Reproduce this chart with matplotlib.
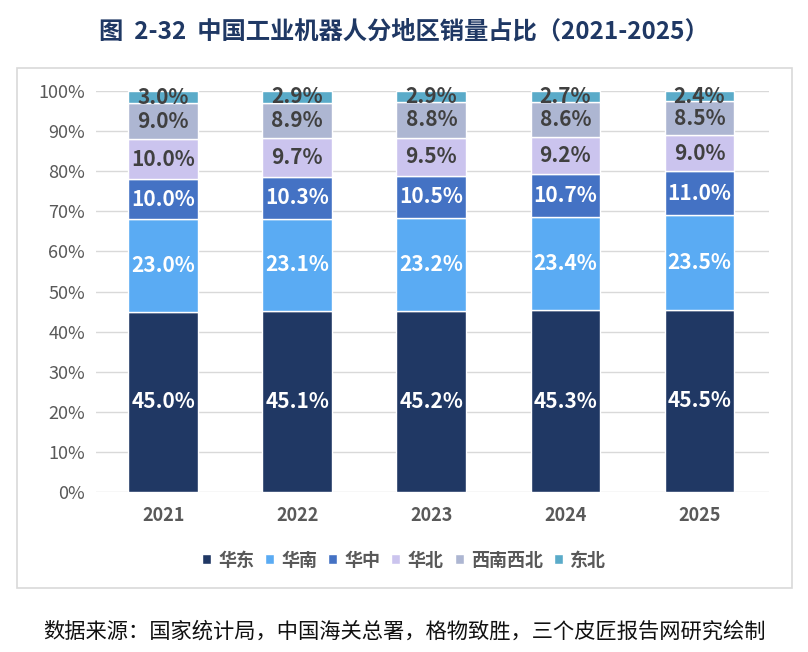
import matplotlib.pyplot as plt
import numpy as np
from matplotlib.patches import Rectangle

plt.rcParams['font.family'] = ['Noto Sans CJK SC', 'DejaVu Sans']

years = ["2021", "2022", "2023", "2024", "2025"]
east = [45.0, 45.1, 45.2, 45.3, 45.5]
south = [23.0, 23.1, 23.2, 23.4, 23.5]
central = [10.0, 10.3, 10.5, 10.7, 11.0]
north = [10.0, 9.7, 9.5, 9.2, 9.0]
west = [9.0, 8.9, 8.8, 8.6, 8.5]
northeast = [3.0, 2.9, 2.9, 2.7, 2.4]

names = ["华东", "华南", "华中", "华北", "西南西北", "东北"]
series = [east, south, central, north, west, northeast]
colors = ["#203864", "#5aabf3", "#4472c4", "#cbc4ee", "#adb6d2", "#5aabc9"]
label_colors = ["white", "white", "white", "#404040", "#404040", "#404040"]

fig = plt.figure(figsize=(8.08, 6.52), dpi=100)
ax = fig.add_axes([0.119, 0.2454, 0.833, 0.615])

# outer frame
fig.patches.append(Rectangle((17 / 808, 1 - 588 / 652), 775 / 808, 520 / 652,
                             transform=fig.transFigure, fill=False,
                             edgecolor="#d9d9d9", linewidth=1.2))

x = np.arange(len(years))
bottom = np.zeros(len(years))
for name, vals, c, lc in zip(names, series, colors, label_colors):
    vals = np.array(vals)
    bars = ax.bar(x, vals, 0.52, bottom=bottom, color=c, edgecolor="white",
                  linewidth=1, label=name)
    for xi, b, v in zip(x, bottom, vals):
        ax.text(xi, b + v / 2, f"{v:.1f}%", ha="center", va="center",
                color=lc, fontsize=15, fontweight="bold")
    bottom += vals

ax.set_xlim(-0.5, 4.52)
ax.set_ylim(0, 100)
ax.set_yticks(np.arange(0, 101, 10))
ax.set_yticklabels([f"{t}%" for t in range(0, 101, 10)])
ax.set_xticks(x)
ax.set_xticklabels(years, fontweight="bold")
ax.tick_params(axis="both", length=0, labelsize=13, colors="#595959")
ax.tick_params(axis="x", pad=10)
ax.tick_params(axis="y", pad=8)
ax.grid(axis="y", color="#d9d9d9", linewidth=1)
ax.set_axisbelow(True)
for s in ax.spines.values():
    s.set_visible(False)

leg = fig.legend(loc="center", bbox_to_anchor=(0.5, 1 - 560 / 652), ncol=6,
                 frameon=False, handlelength=0.5, handleheight=0.5,
                 handletextpad=0.4, columnspacing=0.6,
                 prop={"size": 13, "weight": "bold"})
for t in leg.get_texts():
    t.set_color("#595959")

fig.text(0.5, 1 - 32 / 652, "图  2-32  中国工业机器人分地区销量占比（2021-2025）",
         ha="center", va="center", fontsize=17.5, fontweight="bold", color="#1f3864")
fig.text(0.5, 1 - 632 / 652, "数据来源：国家统计局，中国海关总署，格物致胜，三个皮匠报告网研究绘制",
         ha="center", va="center", fontsize=15.3, color="#111111")

fig.savefig("out.png", dpi=100)
